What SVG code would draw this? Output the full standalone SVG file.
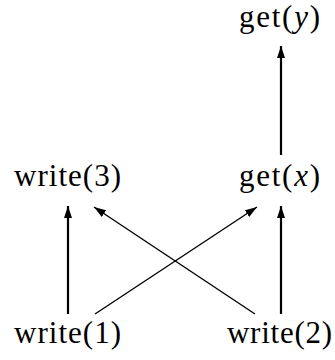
<svg xmlns="http://www.w3.org/2000/svg" width="335" height="360" viewBox="0 0 335 360">
<style>
text{font-family:"Liberation Serif","DejaVu Serif",serif;font-size:31px;fill:#000}
.it{font-style:italic}
.thick{stroke:#000;stroke-width:2.2;fill:none}
.thin{stroke:#000;stroke-width:1.4;fill:none}
</style>
<defs>
<marker id="ah" viewBox="0 0 12 8" refX="12" refY="4" markerWidth="12" markerHeight="8" markerUnits="userSpaceOnUse" orient="auto">
<path d="M0,0 L12,4 L0,8 Z" fill="#000"/>
</marker>
</defs>
<g id="edges">
<line class="thick" x1="68" y1="314" x2="68" y2="206" marker-end="url(#ah)"/>
<line class="thick" x1="281" y1="314" x2="281" y2="206" marker-end="url(#ah)"/>
<line class="thick" x1="281" y1="155" x2="281" y2="46" marker-end="url(#ah)"/>
<line class="thin" x1="95" y1="314" x2="257" y2="207" marker-end="url(#ah)"/>
<line class="thin" x1="255" y1="314" x2="94" y2="207" marker-end="url(#ah)"/>
</g>
<g id="get_y"><text x="239" y="27" textLength="81" lengthAdjust="spacing">get(<tspan class="it">y</tspan>)</text></g>
<g id="write3"><text x="14" y="186" textLength="107" lengthAdjust="spacing">write(3)</text></g>
<g id="get_x"><text x="239" y="186" textLength="81" lengthAdjust="spacing">get(<tspan class="it">x</tspan>)</text></g>
<g id="write1"><text x="14" y="343" textLength="107" lengthAdjust="spacing">write(1)</text></g>
<g id="write2"><text x="227" y="343" textLength="105" lengthAdjust="spacing">write(2)</text></g>
</svg>
